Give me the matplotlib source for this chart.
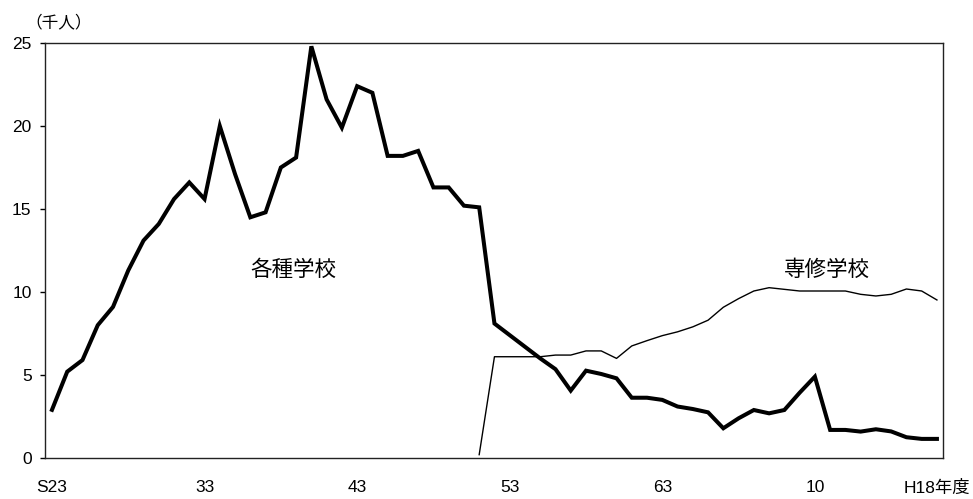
"""各種学校・専修学校の推移（千人）"""

import matplotlib
matplotlib.use("Agg")
import matplotlib.pyplot as plt
import numpy as np

plt.rcParams["font.family"] = ["Liberation Sans", "Noto Sans CJK JP", "DejaVu Sans"]

# %% データ（S23〜H18年度、千人）
years = np.arange(1948, 2007)
kakushu = [2.9, 5.2, 5.9, 8.0, 9.1, 11.3, 13.1, 14.1, 15.6, 16.6,
           15.6, 20.0, 17.1, 14.5, 14.8, 17.5, 18.1, 24.8, 21.6, 19.9,
           22.4, 22.0, 18.2, 18.2, 18.5, 16.3, 16.3, 15.2, 15.1, 8.1,
           7.4, 6.7, 6.0, 5.35, 4.06, 5.26, 5.06, 4.8, 3.63, 3.63,
           3.5, 3.1, 2.95, 2.75, 1.79, 2.39, 2.89, 2.69, 2.89, 3.93,
           4.9, 1.69, 1.69, 1.59, 1.73, 1.6, 1.25, 1.15, 1.15]
senshu = [np.nan] * 28 + [
           0.2, 6.1, 6.1, 6.1, 6.1, 6.2, 6.2, 6.45, 6.45, 6.0,
           6.75, 7.07, 7.37, 7.6, 7.9, 8.3, 9.08, 9.6, 10.06, 10.26,
           10.16, 10.06, 10.06, 10.06, 10.06, 9.86, 9.76, 9.86, 10.18, 10.06,
           9.52]
tick_pos = [0, 10, 20, 30, 40, 50, 58]
tick_labels = ["S23", "33", "43", "53", "63", "10", "H18年度"]

# %% 描画
fig = plt.figure(figsize=(9.73, 4.99), dpi=100)
ax = fig.add_axes([0.0462, 0.0822, 0.9230, 0.8316])

x = np.arange(len(years))
ax.plot(x, kakushu, color="black", linewidth=2.9, solid_joinstyle="miter")
ax.plot(x, senshu, color="black", linewidth=1.0)

ax.set_xlim(-0.46, 58.4)
ax.set_ylim(0, 25)
ax.set_yticks(np.arange(0, 26, 5))
ax.set_xticks(tick_pos)
ax.set_xticklabels(tick_labels)
ax.tick_params(axis="x", length=0, pad=16, labelsize=12.5)
ax.tick_params(axis="y", length=3.6, width=1, pad=6, labelsize=12.5, direction="out")
for s in ax.spines.values():
    s.set_linewidth(1.0)
    s.set_color("#222222")

cjk = ["Noto Sans CJK JP", "DejaVu Sans"]
ax.text(15.8, 11.3, "各種学校", ha="center", va="center", fontsize=15.5, family=cjk)
ax.text(50.8, 11.3, "専修学校", ha="center", va="center", fontsize=15.5, family=cjk)
fig.text(0.06, 0.955, "（千人）", ha="center", va="center", fontsize=12, family=cjk)

fig.savefig("out.png", dpi=100)
plt.close(fig)
